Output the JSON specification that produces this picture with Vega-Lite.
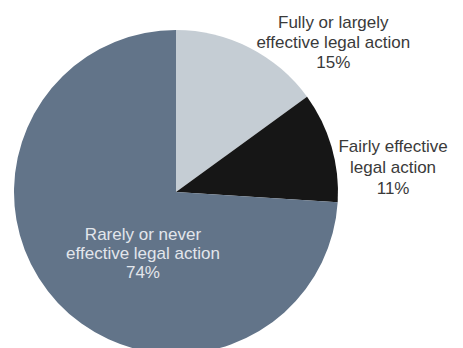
{
  "$schema": "https://vega.github.io/schema/vega-lite/v6.json",
  "autosize": {"type": "none"},
  "padding": {"left": 0, "top": 36, "right": 111, "bottom": 0},
  "width": 352,
  "height": 312,
  "background": "white",
  "view": {"stroke": null},
  "data": {
    "values": [
      {"category": "Fully or largely effective legal action", "share": 15, "order": 1, "label": "Fully or largely\neffective legal action\n15%"},
      {"category": "Fairly effective legal action", "share": 11, "order": 2, "label": "Fairly effective\nlegal action\n11%"},
      {"category": "Rarely or never effective legal action", "share": 74, "order": 3, "label": "Rarely or never\neffective legal action\n74%"}
    ]
  },
  "encoding": {
    "theta": {"field": "share", "type": "quantitative", "stack": true},
    "order": {"field": "order", "type": "quantitative"}
  },
  "layer": [
    {
      "mark": {"type": "arc", "outerRadius": 162, "stroke": null},
      "encoding": {
        "color": {
          "field": "category",
          "type": "nominal",
          "scale": {
            "domain": ["Fully or largely effective legal action", "Fairly effective legal action", "Rarely or never effective legal action"],
            "range": ["#c5cdd4", "#161616", "#627489"]
          },
          "legend": null
        }
      }
    },
    {
      "mark": {"type": "text", "radius": 190, "dx": 71, "dy": 0, "lineBreak": "\n", "lineHeight": 20, "font": "Liberation Sans", "fontSize": 17, "color": "#3a3a3a", "align": "center", "baseline": "middle"},
      "encoding": {"text": {"condition": {"test": "datum.order == 1", "field": "label"}, "value": ""}}
    },
    {
      "mark": {"type": "text", "radius": 200, "dx": 25, "dy": 11, "lineBreak": "\n", "lineHeight": 21, "font": "Liberation Sans", "fontSize": 17, "color": "#3a3a3a", "align": "center", "baseline": "middle"},
      "encoding": {"text": {"condition": {"test": "datum.order == 2", "field": "label"}, "value": ""}}
    },
    {
      "mark": {"type": "text", "radius": 70, "dx": 18, "dy": -5, "lineBreak": "\n", "lineHeight": 19, "font": "Liberation Sans", "fontSize": 17, "color": "#e2e6ec", "align": "center", "baseline": "middle"},
      "encoding": {"text": {"condition": {"test": "datum.order == 3", "field": "label"}, "value": ""}}
    }
  ]
}
